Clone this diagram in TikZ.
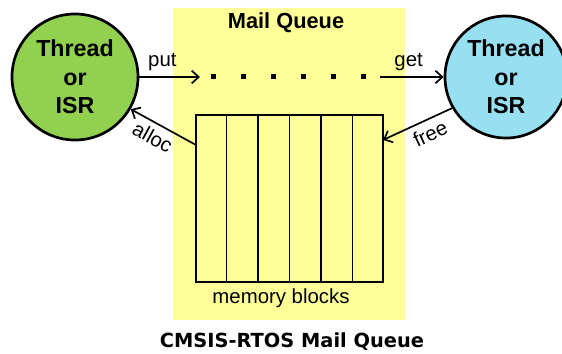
\documentclass[tikz,border=0pt]{standalone}
\usepackage{fontspec}
\setmainfont{Liberation Sans}
\newfontfamily\capfont{DejaVu Sans}
\usepackage{tikz}
\usetikzlibrary{arrows.meta,positioning,calc}
\definecolor{thrgreen}{RGB}{146,208,80}
\definecolor{thrblue}{RGB}{150,224,242}
\definecolor{mqyellow}{RGB}{255,255,153}

\begin{document}
\begin{tikzpicture}[x=0.025cm, y=-0.025cm,
    thr/.style={circle, draw, line width=1.9pt, align=center,
      font=\fontsize{16.5}{20.3}\selectfont\bfseries},
    flow/.style={-{Straight Barb[length=5pt,width=9pt]}, line width=1.2pt},
    lbl/.style={font=\fontsize{14.5}{16}\selectfont, inner sep=1pt}]
  \useasboundingbox (0,0) rectangle (562,354);
  % queue area and its memory blocks
  \node[fill=mqyellow, minimum width=5.8cm, minimum height=7.8cm] (mq) at (289,164) {};
  \node[font=\fontsize{15.5}{18}\selectfont\bfseries] (mqtitle) at (286,23) {Mail Queue};
  \node[draw, line width=1.2pt, minimum width=4.675cm, minimum height=4.175cm] (blocks) at (289.5,198.5) {};
  \foreach \i in {1,...,5}
    \draw[line width=1.2pt] ($(blocks.north west)!\i/6!(blocks.north east)$) -- ($(blocks.south west)!\i/6!(blocks.south east)$);
  \node[lbl] (blockslbl) at (281,298) {memory blocks};
  % the two threads
  \node[thr, fill=thrgreen, minimum size=3.15cm] (leftthr) at (75,77) {Thread\\or\\ISR};
  \node[thr, fill=thrblue, minimum size=3.05cm] (rightthr) at (506,77) {Thread\\or\\ISR};
  % queued messages
  \foreach \x in {213,243,...,363}
    \fill (\x-2.5,74.5) rectangle (\x+2.5,79.5);
  \coordinate (putend) at (200,77);
  \coordinate (getstart) at (380,77);
  \coordinate (allocstart) at (196,145);
  \coordinate (freeend) at (383,140);
  \draw[flow] (leftthr) -- (putend) node[lbl, pos=0.38, above=3pt] (putlbl) {put};
  \draw[flow] (getstart) -- (rightthr) node[lbl, pos=0.45, above=3pt] (getlbl) {get};
  \draw[flow] (allocstart) -- (leftthr.-30) node[lbl, pos=0.56, below=3pt, sloped] (alloclbl) {alloc};
  \draw[flow] (rightthr.-150) -- (freeend) node[lbl, pos=0.4, below=3pt, sloped] (freelbl) {free};
  % caption
  \node[font=\capfont\fontsize{13.8}{16}\selectfont\bfseries] (caption) at (292,342) {CMSIS-RTOS Mail Queue};
\end{tikzpicture}
\end{document}
